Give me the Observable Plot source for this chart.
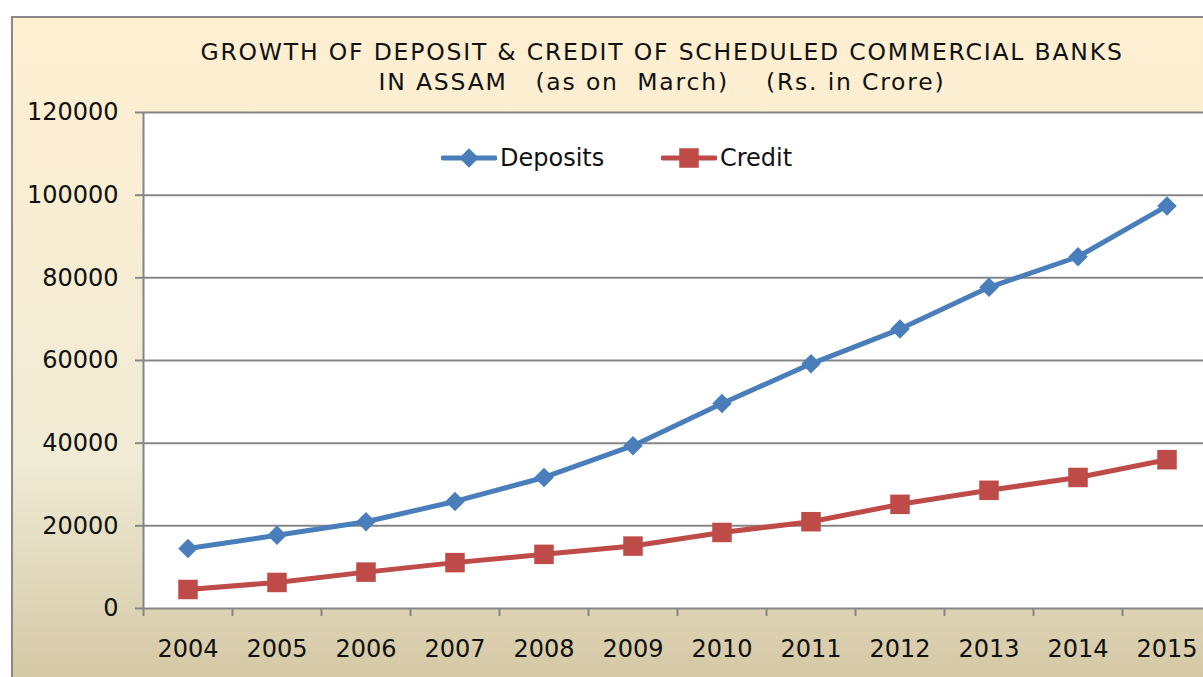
<!DOCTYPE html>
<html><head><meta charset="utf-8">
<script src="https://cdn.jsdelivr.net/npm/d3@7"></script>
<script src="https://cdn.jsdelivr.net/npm/@observablehq/plot@0.6"></script>
<style>
html,body{margin:0;padding:0;width:1203px;height:677px;overflow:hidden;background:#fff;}
#chart{position:absolute;left:11px;top:16px;width:1220px;height:690px;border:2px solid #888;
  background:linear-gradient(to bottom,#FFEFD1 0%,#F0EBD5 64%,#D1C39F 100%);
  font-family:"DejaVu Sans",sans-serif;color:#111;}
#title{position:absolute;left:0;top:19px;width:1298px;text-align:center;font-size:23.5px;line-height:30px;white-space:pre;letter-spacing:1.8px;}
#plot{position:absolute;left:0;top:0;}
#legend{position:absolute;top:127px;left:0;width:1200px;height:26px;font-size:24px;}
.item{position:absolute;top:0;display:flex;align-items:center;height:26px;}
.item svg{display:block;margin-right:3px;}
</style></head>
<body>
<div id="chart">
  <div id="plot"></div>
  <div id="title"></div>
  <div id="legend"></div>
</div>
<script>
const years = [2004,2005,2006,2007,2008,2009,2010,2011,2012,2013,2014,2015];
const deposits = [14500,17700,21000,25900,31700,39400,49600,59200,67600,77700,85100,97400];
const credit = [4600,6300,8800,11100,13100,15100,18400,21000,25200,28600,31700,36000];
const seriesNames = ["Deposits","Credit"];
const seriesColors = ["#4A7EBB","#BE4B48"];
const seriesSymbols = ["diamond2","square"];
const yTicks = [0,20000,40000,60000,80000,100000,120000];
const titleLines = ["GROWTH OF DEPOSIT & CREDIT OF SCHEDULED COMMERCIAL BANKS","IN ASSAM   (as on  March)    (Rs. in Crore)"];

const data = [
  ...years.map((y,i)=>({year:y, value:deposits[i], series:seriesNames[0]})),
  ...years.map((y,i)=>({year:y, value:credit[i], series:seriesNames[1]}))
];
const boundaries = years.map(y=>y-0.5).concat([years[years.length-1]+0.5]);
const gray = "#868686";

document.getElementById("title").textContent = titleLines.join("\n");

const chart = Plot.plot({
  width:1200, height:660,
  marginLeft:130, marginRight:2, marginTop:94, marginBottom:70,
  style:{background:"transparent", fontFamily:"DejaVu Sans, sans-serif", fontSize:"24px", color:"#111", overflow:"visible"},
  x:{domain:[boundaries[0], boundaries[boundaries.length-1]]},
  y:{domain:[0,120000]},
  color:{domain:seriesNames, range:seriesColors},
  symbol:{domain:seriesNames, range:seriesSymbols},
  marks:[
    Plot.frame({fill:"white", stroke:"none"}),
    Plot.gridY(yTicks,{stroke:gray, strokeOpacity:1, strokeWidth:2}),
    Plot.ruleX([boundaries[0]],{stroke:gray, strokeWidth:2}),
    Plot.axisY(yTicks,{tickSize:8, tickPadding:17, stroke:gray, strokeWidth:2, strokeOpacity:1, tickFormat:d=>String(d), label:null, fontSize:24, fill:"#111"}),
    Plot.axisX(boundaries,{tickSize:8, tickFormat:()=>"", stroke:gray, strokeWidth:2, strokeOpacity:1, label:null}),
    Plot.axisX(years,{tickSize:0, tickPadding:31, tickFormat:d=>String(d), label:null, fontSize:24, fill:"#111"}),
    Plot.line(data,{x:"year", y:"value", z:"series", stroke:"series", strokeWidth:5}),
    Plot.dot(data.filter(d=>d.series==="Deposits"),{x:"year", y:"value", symbol:"series", fill:"series", stroke:"none", r:8.8}),
    Plot.dot(data.filter(d=>d.series==="Credit"),{x:"year", y:"value", symbol:"series", fill:"series", stroke:"none", r:11})
  ]
});
document.getElementById("plot").appendChild(chart);

// legend
const legend = document.getElementById("legend");
const legendLefts = [428, 648];
seriesNames.forEach((name,i)=>{
  const item = document.createElement("div");
  item.className = "item";
  item.style.left = legendLefts[i] + "px";
  const sym = i===0 ? d3.symbol(d3.symbolDiamond2, Math.PI*8.8*8.8) : d3.symbol(d3.symbolSquare, Math.PI*11*11);
  item.innerHTML = `<svg width="56" height="26"><line x1="2" x2="54" y1="13" y2="13" stroke="${seriesColors[i]}" stroke-width="5" stroke-linecap="round"/><path transform="translate(28,13)" d="${sym()}" fill="${seriesColors[i]}"/></svg><span>${name}</span>`;
  legend.appendChild(item);
});
</script>
</body></html>
